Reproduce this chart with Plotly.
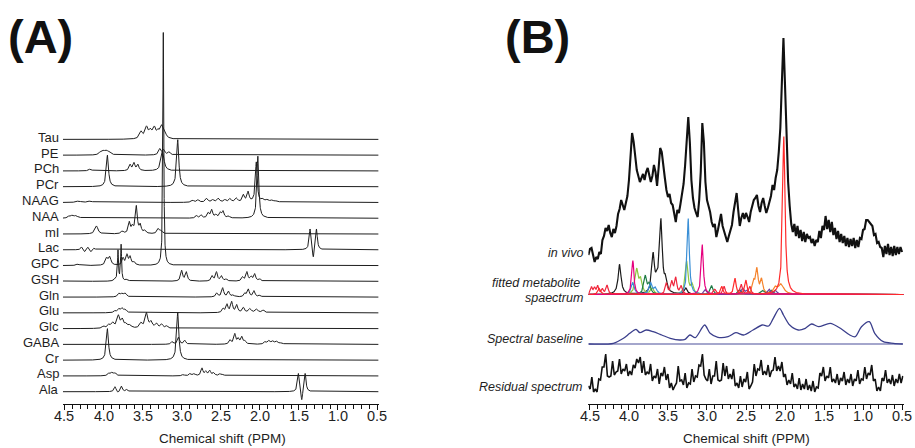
import numpy as np
import plotly.graph_objects as go

W, H = 915, 448
FONT = "Liberation Sans, Arial, Helvetica, sans-serif"

# ---------------------------------------------------------------------------
# (A) simulated metabolite basis spectra
# each peak: (chemical shift in ppm, amplitude in a.u., half width in ppm)
# ---------------------------------------------------------------------------
TAU = [(3.52, 7, .022), (3.45, 11, .022), (3.40, 7, .022), (3.35, 10, .022),
       (3.30, 6, .022), (3.255, 11, .022), (3.22, 6, .022)]
PE = [(4.04, 2.5, .022), (4.00, 3.5, .022), (3.96, 3.5, .022), (3.92, 2.5, .022),
      (3.28, 6, .018), (3.23, 5, .018), (3.16, 3, .018)]
PCH = [(4.17, 2, .02), (3.66, 6, .015), (3.61, 7.5, .015), (3.56, 6, .015),
       (3.245, 20, .022)]
PCR = [(3.95, 31.5, .016), (3.05, 47, .016)]
NAAG = [(4.32, 1.5, .03), (4.17, 1.5, .03), (2.86, 2, .02), (2.79, 2.5, .018),
        (2.68, 4, .018), (2.60, 2.5, .018), (2.53, 4, .018), (2.445, 2.5, .018),
        (2.38, 3.5, .018), (2.30, 4, .018), (2.21, 7, .016), (2.15, 10, .016),
        (2.045, 40, .014), (1.96, 3, .02), (1.90, 2.5, .02), (1.84, 2, .02),
        (1.78, 1.5, .02)]
NAA = [(4.44, 2, .018), (4.40, 2.5, .018), (4.36, 2, .018), (4.32, 1.5, .018),
       (2.81, 2.5, .015), (2.75, 3, .015), (2.66, 5, .015), (2.615, 8, .015),
       (2.56, 3, .015), (2.505, 5, .015), (2.47, 6.5, .015), (2.40, 2, .015),
       (2.025, 62, .014)]
MI = [(4.09, 8, .022), (3.76, 2.5, .018), (3.67, 11, .015), (3.63, 6, .015),
      (3.58, 27, .015), (3.53, 8, .015), (3.47, 3, .018), (3.30, 5, .018),
      (3.26, 3, .018)]
LAC = [(4.28, 3, .014), (4.24, -2.5, .014), (4.20, 3, .014), (4.16, -2.5, .014),
       (4.12, 2, .014), (1.357, 21, .013), (1.316, -11, .011), (1.275, 21, .013)]
GPC = [(4.33, 1.5, .02), (3.96, 7, .018), (3.92, 8, .018), (3.75, 7, .015),
       (3.70, 10, .015), (3.66, 8, .015), (3.61, 3, .018), (3.235, 233, .007)]
GSH = [(4.56, 1.5, .02), (3.85, 2, .018), (3.815, 30, .007), (3.775, 36, .007),
       (3.70, 2, .018), (3.00, 10.5, .015), (2.94, 9, .015), (2.61, 5, .015),
       (2.555, 9, .015), (2.49, 5, .015), (2.43, 2, .015), (2.22, 4, .015),
       (2.165, 9, .015), (2.11, 4, .015), (2.065, 7, .015), (2.00, 2, .015)]
GLN = [(3.80, 3.5, .018), (3.76, 3, .018), (3.72, 3.5, .018), (2.55, 4, .015),
       (2.475, 9, .015), (2.40, 5.5, .015), (2.34, 2, .015), (2.19, 3.5, .015),
       (2.147, 7.5, .015), (2.074, 6, .015), (2.00, 2, .015)]
GLU = [(3.85, 2, .018), (3.80, 3.5, .018), (3.76, 4, .018), (3.72, 3, .018),
       (2.47, 4, .015), (2.42, 8, .015), (2.36, 10.5, .015), (2.295, 7.5, .015),
       (2.21, 5, .016), (2.125, 4, .02), (2.04, 3.5, .02), (1.955, 2.5, .02)]
GLC = [(4.00, 2, .02), (3.93, 3.5, .02), (3.88, 5, .02), (3.81, 12, .02),
       (3.76, 8, .02), (3.71, 4, .02), (3.66, 3, .02), (3.52, 5, .02),
       (3.45, 15, .02), (3.39, 6, .02), (3.32, 4.5, .018), (3.255, 4, .018),
       (3.19, 2.5, .018)]
GABA = [(3.12, 3, .015), (3.04, 7, .015), (2.96, 4, .015), (2.38, 4, .015),
        (2.32, 10, .015), (2.275, 5, .015), (2.23, 7, .015), (2.19, 3, .015),
        (1.93, 2.5, .018), (1.88, 3.5, .018), (1.83, 3, .018), (1.78, 3, .018),
        (1.72, 1.5, .018)]
CR = [(3.95, 31.5, .016), (3.05, 48, .016)]
ASP = [(3.93, 2.5, .018), (3.89, 3, .018), (3.85, 2.5, .018), (2.98, 1.5, .015),
       (2.89, 2.5, .015), (2.84, 2, .015), (2.74, 7.5, .015), (2.69, 4, .015),
       (2.64, 5, .015), (2.59, 3, .015), (2.51, 2, .015), (2.47, 1.5, .015)]
ALA = [(3.853, 5, .014), (3.815, -1.5, .014), (3.77, 5.5, .014), (3.70, 2.5, .014),
       (1.506, 18.5, .013), (1.463, -11, .011), (1.42, 18.5, .013)]

BASIS_NAMES = ["Tau", "PE", "PCh", "PCr", "NAAG", "NAA", "mI", "Lac", "GPC",
               "GSH", "Gln", "Glu", "Glc", "GABA", "Cr", "Asp", "Ala"]
BASIS_PEAKS = [TAU, PE, PCH, PCR, NAAG, NAA, MI, LAC, GPC,
               GSH, GLN, GLU, GLC, GABA, CR, ASP, ALA]

# ---------------------------------------------------------------------------
# (B) in vivo spectrum, sampled every 0.02 ppm from 4.52 down to 0.50 ppm
# ---------------------------------------------------------------------------
INVIVO = [
    -5, 1, 2, -6, -12, -7, -9, -2, -4, 10,
    14, 22, 19, 25, 17, 13, 21, 17, 24, 36,
    41, 50, 46, 40, 47, 54, 70, 92, 117, 108,
    90, 80, 74, 68, 72, 76, 70, 78, 82, 75,
    68, 74, 85, 78, 64, 82, 102, 98, 82, 72,
    60, 53, 56, 47, 45, 38, 28, 40, 37, 46,
    57, 66, 85, 115, 133, 108, 70, 52, 42, 37,
    33, 50, 78, 127, 108, 68, 50, 44, 38, 28,
    23, 26, 13, 20, 28, 36, 24, 18, 14, 8,
    14, 19, 25, 38, 50, 57, 40, 24, 32, 37,
    31, 37, 33, 28, 38, 44, 50, 52, 55, 44,
    38, 47, 52, 44, 37, 42, 48, 54, 65, 60,
    72, 80, 98, 122, 168, 212, 165, 108, 68, 44,
    26, 18, 26, 14, 24, 12, 20, 9, 18, 8,
    16, 12, 13, 7, 11, 4, 10, 8, 19, 12,
    24, 20, 34, 21, 30, 18, 28, 15, 22, 11,
    19, 8, 16, 7, 14, 4, 12, 3, 11, 4,
    12, 2, 10, 3, 12, 11, 20, 21, 30, 30,
    28, 26, 24, 15, 16, 7, 8, 3, 2, -7,
    4, -4, 6, -5, 3, -6, 4, -5, 3, -4,
    3, -2,
]

# fitted metabolite components: (shift ppm, amplitude a.u., half width ppm)
FIT_MI = [(4.12, 30, .022), (3.69, 38, .02), (3.64, 10, .02),
          (3.59, 72, .02), (3.53, 12, .02), (3.27, 6, .02)]
FIT_GPC = [(3.90, 24, .022), (3.85, 14, .022), (3.70, 6, .022),
           (3.26, 33, .02), (3.19, 9, .02)]
FIT_GLU = [(3.79, 18, .02), (3.74, 10, .02), (2.94, 9, .02),
           (2.58, 5, .022), (2.17, 4, .022), (2.28, 4, .03)]
FIT_PCH = [(3.95, 12, .022), (3.72, 11, .022), (3.66, 6, .022), (3.24, 76, .016)]
FIT_GLN = [(2.40, 11, .018), (2.36, 24, .018), (2.30, 14, .018),
           (2.12, 6, .025), (2.05, 10, .04)]
FIT_GABA = [(2.54, 6, .02), (2.48, 4, .02), (2.20, 5, .02), (2.12, 4, .02),
            (3.02, 5, .02)]
FIT_GSH = [(4.48, 7, .014), (4.44, 6, .014), (4.40, 8, .014), (4.34, 5, .014),
           (4.28, 9, .016), (3.52, 11, .016), (3.45, 12, .016), (3.40, 16, .016),
           (3.33, 8, .016), (2.90, 5, .02), (2.56, 10, .016), (2.45, 8, .016),
           (2.78, 8, .016)]
FIT_CR = [(3.95, 34, .016), (3.06, 50, .016)]
FIT_NAA = [(4.38, 6, .02), (2.81, 8, .016), (2.64, 16, .016), (2.50, 14, .016),
           (2.015, 158, .018)]
FIT_COLORS = ["#1a1a1a", "#8cc63f", "#1e7b45", "#3a8fd6", "#f5822a",
              "#6b3fa0", "#f0263c", "#e6007e", "#ff2a2a"]
FIT_PEAKS = [FIT_MI, FIT_GPC, FIT_GLU, FIT_PCH, FIT_GLN,
             FIT_GABA, FIT_GSH, FIT_CR, FIT_NAA]

# spectral baseline (ppm, a.u.)
BASELINE_PPM = [4.52, 4.20, 4.07, 3.99, 3.91, 3.86, 3.78, 3.69, 3.58, 3.47,
                3.35, 3.28, 3.22, 3.15, 3.03, 2.96, 2.86, 2.73, 2.63, 2.53,
                2.41, 2.29, 2.21, 2.15, 2.07, 2.02, 1.94, 1.83, 1.74, 1.66,
                1.57, 1.42, 1.29, 1.17, 1.10, 1.02, 0.92, 0.85, 0.74, 0.61,
                0.49]
BASELINE_VAL = [0, 0.7, 5.7, 10.7, 14.7, 11.3, 14, 12.3, 9, 5.7,
                4, 4.7, 9, 6.3, 19, 10.7, 6.7, 7.3, 11.3, 9,
                14, 19, 18, 25.7, 35.7, 29, 19, 14, 15.7, 20,
                17.3, 20.7, 15.7, 9, 7.3, 17.3, 22.3, 10.7, 2.3, 0.7,
                0]

# residual spectrum (a.u.), evenly sampled from 4.52 to 0.49 ppm
RESIDUAL = [
    -6, -9, 3, -12, -9, -12, 1, 0, 13, 13, 26, 4, 3, 4, 19, 5, 8, 9, 21, 6,
    11, 9, 16, 4, 9, 5, 15, 12, 21, 17, 23, 7, 19, 5, 8, 6, 16, -1, 4, 2,
    11, -4, 7, 4, 13, 0, 6, -8, -3, -10, -6, -3, 14, -1, 0, -5, 7, -8, -3, -4,
    11, -2, 4, 3, 15, 14, 26, 5, 1, -1, 11, -4, 4, 4, 19, 0, -1, 0, 17, 4,
    14, 1, 6, 1, 11, -6, -3, -8, 4, -7,
    1, -2, 8, -9, -6, -2, 16, 4, 11, 10, 20, 5, 9, 5, 15, 3, 9, 10, 23, 9,
    14, 9, 18, 3, 6, -5, 0, -4, 7, -7, -4, -9, 2, -10, -4, -9, 1, -10, -5, -11,
    -1, -12, -7, -8, 7, 4, 13, -1, 4, 2, 13, -2, 1, -3, 6, -5, 2, -1, 8, -5,
    1, -3, 6, -6, 1, -1, 10, -4, 1, 0, 13, 1, 7, 5, 15, -1, 1, -11, -7, -11,
    2, -1, 10, -3, 1, -4, 5, -6, 1, -3, 6, -3, 4,
]

TICK_PPM = [4.5, 4.0, 3.5, 3.0, 2.5, 2.0, 1.5, 1.0, 0.5]

# ---------------------------------------------------------------------------
grid = np.round(np.arange(0.48, 4.52 + 1e-9, 0.001), 3)


def lineshape(peaks):
    """Sum of Lorentzian lines on the common ppm grid."""
    s = np.zeros_like(grid)
    for c, a, w in peaks:
        s += a / (1.0 + ((grid - c) / w) ** 2)
    return s


def py(pixel_y):
    return 1 - pixel_y / H


fig = go.Figure()
annotations = []

# panel A: stacked basis spectra
ROW_GAP, ROW_BOTTOM = 15.77, 12.3
n_rows = len(BASIS_NAMES)
for i, (name, peaks) in enumerate(zip(BASIS_NAMES, BASIS_PEAKS)):
    off = ROW_BOTTOM + (n_rows - 1 - i) * ROW_GAP
    fig.add_trace(go.Scatter(x=grid, y=lineshape(peaks) + off, mode="lines",
                             line=dict(color="#1e1e1e", width=1),
                             xaxis="x", yaxis="y", hoverinfo="skip",
                             showlegend=False))
    annotations.append(dict(x=61 / W, xref="paper", y=off + 2, yref="y",
                            text=name, showarrow=False, xanchor="right",
                            yanchor="middle",
                            font=dict(family=FONT, size=13, color="#1e1e1e")))

# panel B: in vivo spectrum
OFF_INVIVO, OFF_FIT, OFF_BASE, OFF_RES = 154, 109.5, 60, 24
invivo_ppm = np.linspace(4.52, 0.50, len(INVIVO))
fig.add_trace(go.Scatter(x=invivo_ppm, y=np.array(INVIVO) + OFF_INVIVO,
                         mode="lines", line=dict(color="#111", width=2.1),
                         xaxis="x2", yaxis="y2", hoverinfo="skip",
                         showlegend=False))

# fitted metabolite spectra
for color, peaks in zip(FIT_COLORS, FIT_PEAKS):
    fig.add_trace(go.Scatter(x=grid, y=lineshape(peaks) + OFF_FIT, mode="lines",
                             line=dict(color=color, width=1.2),
                             xaxis="x2", yaxis="y2", hoverinfo="skip",
                             showlegend=False))

# spectral baseline with its zero line
fig.add_trace(go.Scatter(x=[4.52, 0.49], y=[OFF_BASE, OFF_BASE], mode="lines",
                         line=dict(color="#4a4e9a", width=1.2),
                         xaxis="x2", yaxis="y2", hoverinfo="skip",
                         showlegend=False))
fig.add_trace(go.Scatter(x=BASELINE_PPM, y=np.array(BASELINE_VAL) + OFF_BASE,
                         mode="lines",
                         line=dict(color="#3b3f8c", width=1.3, shape="spline",
                                   smoothing=0.8),
                         xaxis="x2", yaxis="y2", hoverinfo="skip",
                         showlegend=False))

# residual
res_ppm = np.linspace(4.52, 0.49, len(RESIDUAL))
fig.add_trace(go.Scatter(x=res_ppm, y=np.array(RESIDUAL) + OFF_RES,
                         mode="lines", line=dict(color="#111", width=1.6),
                         xaxis="x2", yaxis="y2", hoverinfo="skip",
                         showlegend=False))

# panel B row captions
for text, x_right, y_pix in [("in vivo", 585, 253),
                             ("fitted metabolite", 582, 283),
                             ("spaectrum", 585, 297.5),
                             ("Spectral baseline", 585, 338.5),
                             ("Residual spectrum", 585, 387)]:
    annotations.append(dict(x=x_right / W, y=py(y_pix), xref="paper",
                            yref="paper", text=f"<i>{text}</i>",
                            showarrow=False, xanchor="right", yanchor="middle",
                            font=dict(family=FONT, size=12.5, color="#1e1e1e")))

# panel letters
for text, x_left in [("(A)", 6), ("(B)", 503)]:
    annotations.append(dict(x=x_left / W, y=py(37), xref="paper", yref="paper",
                            text=f"<b>{text}</b>", showarrow=False,
                            xanchor="left", yanchor="middle",
                            font=dict(family=FONT, size=47, color="#111")))

# tick labels and axis titles
for xref, xc in (("x", 222), ("x2", 746)):
    for v in TICK_PPM:
        annotations.append(dict(x=v, xref=xref, y=py(416), yref="paper",
                                text=f"{v:.1f}", showarrow=False,
                                xanchor="center", yanchor="middle",
                                font=dict(family=FONT, size=14.5, color="#1e1e1e")))
    annotations.append(dict(x=xc / W, y=py(438.5), xref="paper", yref="paper",
                            text="Chemical shift (PPM)", showarrow=False,
                            xanchor="center", yanchor="middle",
                            font=dict(family=FONT, size=13.5, color="#1e1e1e")))

x_common = dict(range=[4.52, 0.48], showgrid=False, zeroline=False,
                showline=True, linecolor="#111", linewidth=1,
                ticks="outside", ticklen=5, tickwidth=1, tickcolor="#111",
                tickmode="array", tickvals=TICK_PPM, showticklabels=False,
                minor=dict(ticks="outside", ticklen=4, tickwidth=1,
                           tickcolor="#111", dtick=0.1, tick0=0.5),
                fixedrange=True)
y_common = dict(range=[0, 404], domain=[44 / H, 1], visible=False,
                fixedrange=True)

fig.update_layout(
    width=W, height=H, margin=dict(l=0, r=0, t=0, b=0),
    paper_bgcolor="white", plot_bgcolor="white",
    xaxis=dict(domain=[62.9 / W, 378.6 / W], anchor="y", **x_common),
    xaxis2=dict(domain=[588.4 / W, 903.6 / W], anchor="y2", **x_common),
    yaxis=dict(anchor="x", **y_common),
    yaxis2=dict(anchor="x2", **y_common),
    annotations=annotations,
    showlegend=False,
)

fig.write_html("out.html")
